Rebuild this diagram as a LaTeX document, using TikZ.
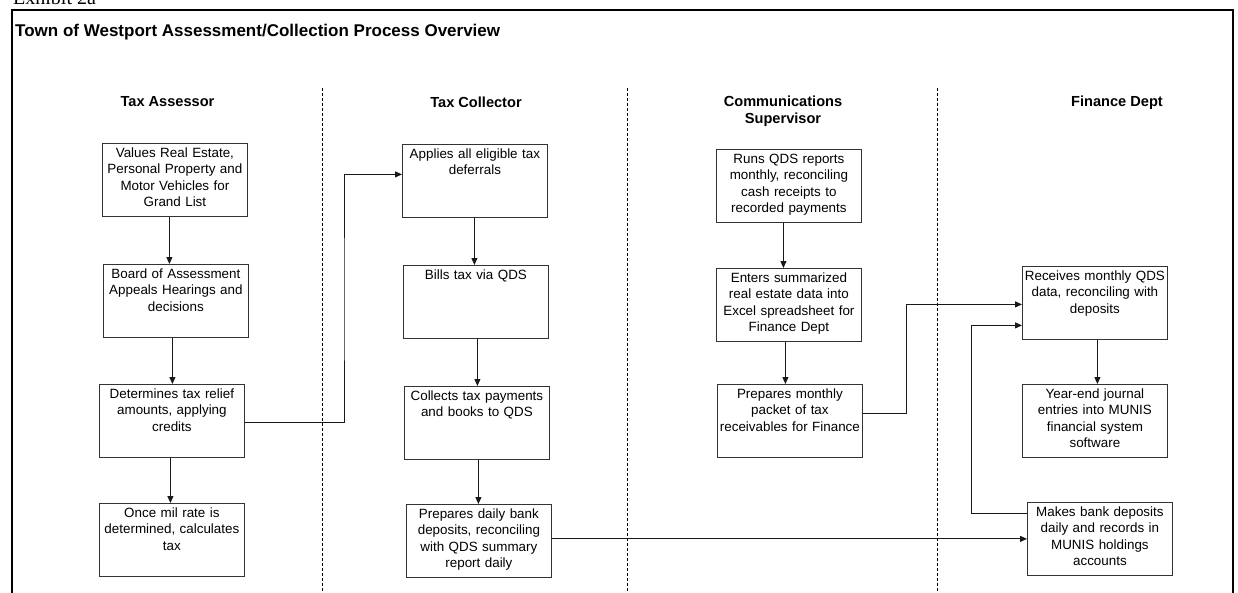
\documentclass[tikz,border=0pt]{standalone}
\usepackage{fontspec}
\setmainfont{Liberation Sans}
\newfontfamily\exhfont{Liberation Serif}
\usetikzlibrary{arrows.meta}
\tikzset{
  proc/.style={draw=black!80, line width=0.8pt, minimum width=145pt, minimum height=73pt, anchor=north west, inner sep=0pt},
  lbl/.style={anchor=north, yshift=-4.5pt, text width=143pt, align=center, inner sep=0pt, font=\fontsize{13.4}{16.5}\selectfont},
  lane/.style={font=\fontsize{14.6}{17.5}\selectfont\bfseries, align=center, inner sep=0pt},
  arr/.style={draw=black!90, line width=0.9pt, -{Triangle[length=7pt,width=6pt]}},
  conn/.style={draw=black!90, line width=0.9pt},
  sep/.style={draw=black, line width=0.8pt, dash pattern=on 3pt off 2pt},
}
\begin{document}
\begin{tikzpicture}[x=1pt,y=-1pt]
\useasboundingbox (0,0) rectangle (1238,592);
% exhibit label (cut off at top)
\node[anchor=base west, inner sep=0pt, font=\exhfont\fontsize{20}{22}\selectfont] (exh) at (13,4) {Exhibit 2a};
% frame
\draw[line width=2.5pt] (12,610) -- (12,10) -- (1233,10) -- (1233,610);
% title
\node[anchor=west, inner sep=0pt, font=\fontsize{17}{20}\selectfont\bfseries] (title) at (15,32) {Town of Westport Assessment/Collection Process Overview};
% lane separators
\draw[sep] (322,88) -- (322,600);
\draw[sep] (627,88) -- (627,600);
\draw[sep] (937,88) -- (937,600);
% lane headers
\node[lane] (hA) at (167.5,102) {Tax Assessor};
\node[lane] (hC) at (476,102) {Tax Collector};
\node[lane] (hS) at (783,111) {Communications\\Supervisor};
\node[lane] (hF) at (1117,103) {Finance Dept};
% Tax Assessor
\node[proc, label={[lbl]north:{Values Real Estate,\\Personal Property and\\Motor Vehicles for\\Grand List}}] (B1) at (102,143) {};
\node[proc, label={[lbl]north:{Board of Assessment\\Appeals Hearings and\\decisions}}] (B2) at (103,264) {};
\node[proc, label={[lbl]north:{Determines tax relief\\amounts, applying\\credits}}] (B3) at (99,384) {};
\node[proc, label={[lbl]north:{Once mil rate is\\determined, calculates\\tax}}] (B4) at (99,503) {};
% Tax Collector
\node[proc, label={[lbl]north:{Applies all eligible tax\\deferrals}}] (C1) at (402,144) {};
\node[proc, label={[lbl]north:{Bills tax via QDS}}] (C2) at (403,265) {};
\node[proc, label={[lbl]north:{Collects tax payments\\and books to QDS}}] (C3) at (404,386) {};
\node[proc, label={[lbl]north:{Prepares daily bank\\deposits, reconciling\\with QDS summary\\report daily}}] (C4) at (406,504) {};
% Communications Supervisor
\node[proc, label={[lbl]north:{Runs QDS reports\\monthly, reconciling\\cash receipts to\\recorded payments}}] (S1) at (716,149) {};
\node[proc, label={[lbl]north:{Enters summarized\\real estate data into\\Excel spreadsheet for\\Finance Dept}}] (S2) at (716,268) {};
\node[proc, label={[lbl]north:{Prepares monthly\\packet of tax\\receivables for Finance}}] (S3) at (717,384) {};
% Finance Dept
\node[proc, label={[lbl]north:{Receives monthly QDS\\data, reconciling with\\deposits}}] (F1) at (1022,266) {};
\node[proc, label={[lbl]north:{Year-end journal\\entries into MUNIS\\financial system\\software}}] (F2) at (1022,384) {};
\node[proc, label={[lbl]north:{Makes bank deposits\\daily and records in\\MUNIS holdings\\accounts}}] (F3) at (1027,502) {};
% vertical flow arrows
\draw[arr] ([xshift=-5.5pt]B1.south) -- ([xshift=-5.5pt]B1.south |- B2.north);
\draw[arr] ([xshift=-3.5pt]B2.south) -- ([xshift=-3.5pt]B2.south |- B3.north);
\draw[arr] ([xshift=-1.5pt]B3.south) -- ([xshift=-1.5pt]B3.south |- B4.north);
\draw[arr] ([xshift=-0.5pt]C1.south) -- ([xshift=-0.5pt]C1.south |- C2.north);
\draw[arr] ([xshift=1.5pt]C2.south) -- ([xshift=1.5pt]C2.south |- C3.north);
\draw[arr] ([xshift=1.5pt]C3.south) -- ([xshift=1.5pt]C3.south |- C4.north);
\draw[arr] ([xshift=-5.5pt]S1.south) -- ([xshift=-5.5pt]S1.south |- S2.north);
\draw[arr] ([xshift=-3.5pt]S2.south) -- ([xshift=-3.5pt]S2.south |- S3.north);
\draw[arr] ([xshift=2.5pt]F1.south) -- ([xshift=2.5pt]F1.south |- F2.north);
% cross-lane connectors
\coordinate (k1) at (344,300);
\coordinate (k2) at (906,360);
\coordinate (k3) at (971,420);
\draw[arr] ([yshift=-1.5pt]B3.east) -| (k1) |- ([yshift=6.5pt]C1.west);
\draw[arr] ([yshift=7.5pt]S3.east) -| (k2) |- ([yshift=-1.5pt]F1.west);
\draw[arr] ([yshift=25.5pt]F3.west) -| (k3) |- ([yshift=-22.5pt]F1.west);
\draw[arr] ([yshift=2pt]C4.east) -- ([yshift=2pt]C4.east -| F3.west);
\end{tikzpicture}
\end{document}
